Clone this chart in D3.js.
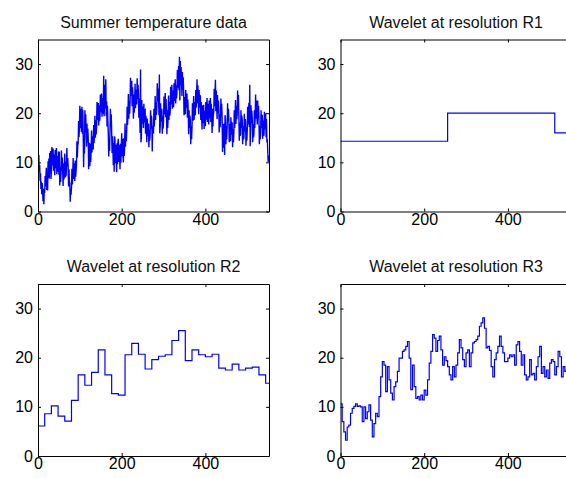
<!DOCTYPE html>
<html>
<head>
<meta charset="utf-8">
<script src="https://cdn.jsdelivr.net/npm/d3@7"></script>
<style>
  body { margin: 0; background: #fff; }
  svg { display: block; }
  .tick text { font-family: "Liberation Sans", Arial, Helvetica, sans-serif; font-size: 16px; fill: #000; }
  .title { font-family: "Liberation Sans", Arial, Helvetica, sans-serif; font-size: 16px; fill: #111; }
</style>
</head>
<body>
<script>

// raw daily summer temperatures (552 samples)
var rawTemps = [
  13.2, 9.8, 11.5, 8.1, 9.5, 6.2, 7.8, 4.6, 6.1, 3.5, 5.8, 4.2, 2.1, 4.6, 1.5, 4.5,
  3.8, 7.2, 5.1, 7.5, 8.9, 4.4, 7.6, 4.3, 10.2, 7.1, 10.8, 6.7, 11.9, 8.0, 12.3, 6.6,
  8.2, 13.1, 9.4, 9.7, 12.8, 8.3, 11.6, 9.7, 7.4, 12.5, 8.8, 11.7, 12.9, 7.6, 11.3, 9.0,
  8.1, 12.2, 7.5, 12.2, 5.3, 9.1, 6.0, 7.6, 12.4, 8.3, 11.0, 8.3, 5.2, 9.8, 6.5, 8.9,
  11.8, 6.9, 10.1, 7.2, 8.6, 12.9, 9.2, 10.9, 9.4, 5.1, 8.6, 6.1, 5.8, 2.0, 4.4, 3.4,
  4.8, 8.7, 5.5, 7.4, 10.9, 6.6, 9.8, 7.5, 6.2, 10.4, 7.1, 8.3, 9.6, 14.3, 11.0, 13.5,
  13.8, 18.4, 15.1, 17.1, 21.5, 17.0, 20.9, 17.4, 16.2, 21.3, 15.8, 20.7, 15.4, 9.0, 14.2, 11.8,
  20.6, 16.1, 19.8, 16.3, 13.2, 17.9, 14.0, 16.9, 15.1, 8.6, 13.5, 14.0, 9.2, 13.8, 10.1, 12.5,
  16.5, 12.0, 15.3, 12.6, 12.8, 17.6, 13.9, 16.1, 19.5, 15.0, 18.6, 15.7, 17.4, 22.3, 18.6, 21.3,
  22.1, 17.5, 21.6, 18.4, 19.0, 23.8, 20.2, 22.2, 24.0, 19.3, 23.1, 20.0, 20.1, 27.6, 19.4, 22.1,
  25.8, 21.0, 26.9, 19.5, 22.4, 17.3, 21.5, 18.4, 15.9, 11.2, 14.6, 12.3, 16.1, 20.9, 17.2, 19.8,
  16.4, 11.9, 15.3, 12.8, 9.4, 14.0, 8.1, 15.3, 14.5, 9.8, 13.6, 10.5, 8.0, 13.9, 9.6, 14.1,
  14.8, 10.1, 13.5, 11.2, 8.6, 13.8, 9.9, 13.3, 15.9, 11.2, 14.8, 11.7, 10.0, 14.9, 11.3, 13.4,
  17.9, 13.2, 16.6, 14.3, 16.4, 21.3, 17.6, 20.3, 23.9, 18.9, 22.5, 19.9, 22.1, 27.2, 23.5, 26.0,
  26.6, 21.4, 25.3, 22.7, 18.9, 23.8, 20.1, 22.4, 26.0, 21.0, 24.8, 22.2, 21.8, 27.1, 22.9, 25.8,
  24.1, 19.1, 23.0, 20.2, 16.0, 28.9, 14.1, 15.0, 22.7, 17.8, 21.4, 18.9, 17.0, 21.9, 18.1, 20.6,
  20.7, 15.8, 19.5, 16.8, 14.1, 18.9, 15.3, 17.7, 17.9, 13.1, 16.6, 14.4, 15.8, 20.6, 16.9, 19.5,
  18.6, 12.2, 17.4, 16.2, 16.1, 20.9, 17.3, 19.7, 23.5, 18.6, 22.2, 19.7, 21.3, 26.1, 22.4, 25.0,
  24.6, 19.6, 27.9, 15.9, 17.2, 22.0, 18.3, 20.9, 20.7, 15.8, 19.4, 16.9, 18.5, 23.4, 19.8, 22.3,
  24.1, 19.2, 22.9, 20.2, 15.7, 20.6, 17.0, 19.5, 23.6, 18.6, 22.3, 19.5, 20.5, 25.4, 21.8, 24.3,
  25.8, 20.9, 24.6, 21.9, 21.2, 26.1, 22.5, 25.0, 26.9, 22.0, 25.7, 23.0, 23.9, 28.8, 25.2, 27.7,
  29.6, 24.7, 31.5, 22.6, 30.6, 25.7, 29.4, 26.7, 23.5, 28.4, 24.8, 27.3, 24.5, 19.6, 23.3, 20.6,
  19.8, 24.7, 21.1, 23.6, 24.0, 19.1, 22.8, 20.1, 15.7, 20.6, 17.0, 19.5, 18.6, 13.7, 17.4, 14.7,
  17.1, 22.0, 18.4, 20.9, 23.5, 18.6, 22.3, 19.6, 19.8, 24.7, 21.1, 23.6, 26.9, 22.0, 25.7, 23.0,
  19.8, 24.7, 21.1, 23.6, 23.5, 18.6, 22.3, 19.6, 16.7, 21.6, 18.0, 20.5, 21.7, 16.8, 20.5, 17.8,
  17.4, 22.3, 18.7, 21.2, 23.1, 18.2, 21.9, 19.2, 17.7, 22.6, 19.0, 21.5, 23.1, 18.2, 21.9, 19.2,
  16.0, 20.9, 17.3, 19.8, 20.1, 25.0, 21.4, 23.9, 26.8, 20.4, 24.6, 21.4, 18.8, 23.7, 20.1, 22.6,
  21.0, 16.1, 19.8, 17.1, 18.1, 23.0, 19.4, 21.9, 19.0, 12.1, 17.8, 17.1, 13.0, 17.9, 11.5, 19.6,
  18.6, 13.7, 17.4, 14.7, 17.1, 22.0, 18.4, 20.9, 19.0, 14.1, 17.8, 15.1, 14.3, 19.2, 15.6, 18.1,
  18.0, 13.1, 16.8, 14.1, 15.7, 20.6, 17.0, 19.5, 22.7, 17.8, 21.5, 18.8, 19.8, 24.6, 21.1, 23.7,
  19.3, 14.4, 18.1, 15.4, 15.7, 20.6, 17.0, 19.5, 18.6, 13.7, 17.4, 14.7, 15.0, 19.9, 16.3, 18.8,
  18.3, 13.4, 17.1, 14.4, 16.4, 21.3, 17.7, 20.2, 22.1, 17.2, 25.8, 13.3, 16.7, 21.6, 18.0, 20.5,
  19.0, 14.1, 17.8, 15.1, 15.7, 20.6, 17.0, 19.5, 23.8, 18.9, 22.6, 19.9, 17.7, 22.6, 19.0, 21.5,
  18.6, 13.7, 17.4, 14.7, 15.7, 20.6, 17.0, 19.5, 19.7, 14.8, 18.5, 15.8, 15.4, 20.3, 16.7, 19.2,
  20.0, 15.1, 18.8, 14.1, 14.7, 12.3, 10.1, 11.4
];

// approximation at resolution R1 (blocks of 256 samples)
var r1Width = 256;
var r1Vals = [14.3, 20.0, 16.0];

// approximation at resolution R2 (blocks of 16 samples)
var r2Width = 16;
var r2Vals = [
  6.1, 8.6, 10.2, 8.1, 7.1, 11.3, 16.5, 14.4, 17.0, 21.6,
  16.5, 12.7, 12.4, 20.6, 22.9, 20.7, 17.7, 19.6, 20.3, 20.6,
  23.5, 25.5, 19.4, 21.6, 20.6, 20.2, 20.7, 17.9, 17.5, 18.7,
  17.5, 17.9, 18.1, 16.5, 14.8
];

// approximation at resolution R3 (blocks of 4 samples)
var r3Width = 4;
var r3Vals = [
  10.6, 7.0, 4.9, 3.2, 5.9, 6.3, 8.7, 9.7, 10.1, 10.6,
  10.1, 10.2, 10.0, 7.0, 10.0, 7.6, 9.0, 10.4, 7.3, 3.9,
  6.6, 8.7, 8.0, 12.1, 16.1, 19.2, 18.5, 13.1, 18.2, 15.5,
  12.8, 11.4, 14.1, 15.1, 17.2, 19.9, 19.9, 21.3, 21.6, 22.3,
  23.3, 19.9, 13.5, 18.5, 14.1, 11.7, 12.1, 11.4, 12.4, 11.4,
  13.4, 12.4, 15.5, 18.9, 21.3, 24.7, 24.0, 21.3, 23.5, 24.4,
  21.6, 18.5, 20.2, 19.4, 18.2, 16.5, 15.5, 18.2, 16.1, 18.5,
  21.0, 23.7, 22.0, 19.6, 18.2, 21.0, 21.6, 18.2, 21.0, 23.0,
  23.3, 23.7, 24.4, 26.4, 27.1, 28.1, 26.0, 22.0, 22.3, 21.5,
  18.2, 16.1, 19.6, 21.0, 22.3, 24.4, 22.3, 21.0, 19.2, 19.2,
  19.9, 20.6, 20.2, 20.6, 18.5, 22.6, 23.3, 21.3, 18.5, 20.6,
  16.5, 15.5, 16.1, 19.6, 16.5, 16.8, 15.5, 18.2, 20.2, 22.3,
  16.8, 18.2, 16.1, 17.5, 15.8, 18.9, 19.6, 19.2, 16.5, 18.2,
  21.3, 20.2, 16.1, 18.2, 17.2, 17.9, 17.5, 17.2
];

var nSamples = rawTemps.length;
var xTicks = [0, 200, 400];
var yTicks = [0, 10, 20, 30];
var titles = ["Summer temperature data", "Wavelet at resolution R1",
              "Wavelet at resolution R2", "Wavelet at resolution R3"];

var svgWidth = 566, svgHeight = 478;
var panelW = 231, panelH = 172;
var lefts = [38, 340.5];
var tops = [39.5, 284];

var svg = d3.select("body").append("svg")
    .attr("width", svgWidth)
    .attr("height", svgHeight);

var x = d3.scaleLinear().domain([0, nSamples]).range([0, panelW]);
var y = d3.scaleLinear().domain([0, 35]).range([panelH, 0]);

// turn block values into step points
function blocks(vals, w) {
  var pts = vals.map((v, i) => ({x: i * w, y: v}));
  pts.push({x: nSamples, y: vals[vals.length - 1]});
  return pts;
}

var series = [
  rawTemps.map((v, i) => ({x: i, y: v})),
  blocks(r1Vals, r1Width),
  blocks(r2Vals, r2Width),
  blocks(r3Vals, r3Width)
];

var linePlain = d3.line().x(d => x(d.x)).y(d => y(d.y));
var lineStep = d3.line().x(d => x(d.x)).y(d => y(d.y)).curve(d3.curveStepAfter);

series.forEach(function(data, k) {
  var col = k % 2, row = Math.floor(k / 2);
  var g = svg.append("g")
      .attr("transform", `translate(${lefts[col]}, ${tops[row]})`);

  g.append("clipPath").attr("id", "clip" + k)
    .append("rect").attr("width", panelW).attr("height", panelH);

  g.append("path")
    .datum(data)
    .attr("clip-path", `url(#clip${k})`)
    .attr("fill", "none")
    .attr("stroke", "#0000ff")
    .attr("stroke-width", k === 0 ? 1.4 : 1.2)
    .attr("d", k === 0 ? linePlain : lineStep);

  g.append("g")
    .attr("transform", `translate(0, ${panelH})`)
    .call(d3.axisBottom(x).tickValues(xTicks).tickSizeInner(-3).tickSizeOuter(0).tickPadding(2));

  g.append("g")
    .call(d3.axisTop(x).tickValues(xTicks).tickSizeInner(-3).tickSizeOuter(0).tickFormat(""));

  g.append("g")
    .call(d3.axisLeft(y).tickValues(yTicks).tickSizeInner(-3).tickSizeOuter(0).tickPadding(5));

  g.append("g")
    .attr("transform", `translate(${panelW}, 0)`)
    .call(d3.axisRight(y).tickValues(yTicks).tickSizeInner(-3).tickSizeOuter(0).tickFormat(""));

  g.selectAll(".domain").attr("stroke", "#000");
  g.selectAll(".tick line").attr("stroke", "#000");

  g.append("text")
    .attr("class", "title")
    .attr("x", panelW / 2)
    .attr("y", -12)
    .attr("text-anchor", "middle")
    .text(titles[k]);
});

</script>
</body>
</html>
